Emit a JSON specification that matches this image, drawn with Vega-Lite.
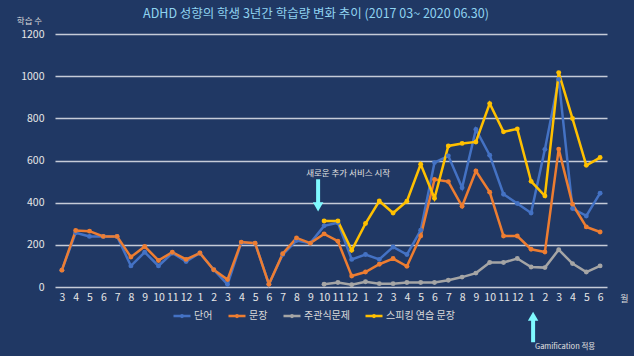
{
  "$schema": "https://vega.github.io/schema/vega-lite/v6.json",
  "width": 552,
  "height": 253,
  "autosize": "none",
  "padding": {"left": 55, "top": 34, "right": 27, "bottom": 69},
  "background": "#203864",
  "config": {"view": {"stroke": null}, "font": "Noto Sans CJK KR"},
  "title": {"text": "ADHD 성향의 학생 3년간 학습량 변화 추이 (2017 03~ 2020 06.30)", "color": "#8fd3f0", "fontSize": 12.5, "fontWeight": "normal", "anchor": "middle", "dx": -15, "offset": -4, "font": "Noto Sans CJK KR"},
  "datasets": {
    "main": [
      {"m": "2017-03", "단어": 80, "문장": 80},
      {"m": "2017-04", "단어": 257, "문장": 268},
      {"m": "2017-05", "단어": 240, "문장": 265},
      {"m": "2017-06", "단어": 240, "문장": 240},
      {"m": "2017-07", "단어": 240, "문장": 240},
      {"m": "2017-08", "단어": 100, "문장": 142},
      {"m": "2017-09", "단어": 165, "문장": 192},
      {"m": "2017-10", "단어": 100, "문장": 126},
      {"m": "2017-11", "단어": 161, "문장": 165},
      {"m": "2017-12", "단어": 121, "문장": 131},
      {"m": "2018-01", "단어": 161, "문장": 161},
      {"m": "2018-02", "단어": 82, "문장": 82},
      {"m": "2018-03", "단어": 13, "문장": 35},
      {"m": "2018-04", "단어": 210, "문장": 213},
      {"m": "2018-05", "단어": 208, "문장": 208},
      {"m": "2018-06", "단어": 13, "문장": 13},
      {"m": "2018-07", "단어": 154, "문장": 158},
      {"m": "2018-08", "단어": 220, "문장": 233},
      {"m": "2018-09", "단어": 208, "문장": 208},
      {"m": "2018-10", "단어": 290, "문장": 252, "주관식문제": 13, "스피킹 연습 문장": 313},
      {"m": "2018-11", "단어": 305, "문장": 217, "주관식문제": 21, "스피킹 연습 문장": 313},
      {"m": "2018-12", "단어": 131, "문장": 52, "주관식문제": 11, "스피킹 연습 문장": 174},
      {"m": "2019-01", "단어": 154, "문장": 71, "주관식문제": 25, "스피킹 연습 문장": 301},
      {"m": "2019-02", "단어": 131, "문장": 108, "주관식문제": 16, "스피킹 연습 문장": 408},
      {"m": "2019-03", "단어": 190, "문장": 135, "주관식문제": 16, "스피킹 연습 문장": 351},
      {"m": "2019-04", "단어": 154, "문장": 98, "주관식문제": 21, "스피킹 연습 문장": 407},
      {"m": "2019-05", "단어": 269, "문장": 242, "주관식문제": 21, "스피킹 연습 문장": 582},
      {"m": "2019-06", "단어": 590, "문장": 510, "주관식문제": 21, "스피킹 연습 문장": 421},
      {"m": "2019-07", "단어": 622, "문장": 500, "주관식문제": 32, "스피킹 연습 문장": 669},
      {"m": "2019-08", "단어": 471, "문장": 383, "주관식문제": 47, "스피킹 연습 문장": 681},
      {"m": "2019-09", "단어": 747, "문장": 550, "주관식문제": 66, "스피킹 연습 문장": 688},
      {"m": "2019-10", "단어": 625, "문장": 450, "주관식문제": 116, "스피킹 연습 문장": 870},
      {"m": "2019-11", "단어": 440, "문장": 242, "주관식문제": 116, "스피킹 연습 문장": 736},
      {"m": "2019-12", "단어": 396, "문장": 242, "주관식문제": 135, "스피킹 연습 문장": 750},
      {"m": "2020-01", "단어": 351, "문장": 179, "주관식문제": 95, "스피킹 연습 문장": 501},
      {"m": "2020-02", "단어": 653, "문장": 166, "주관식문제": 92, "스피킹 연습 문장": 432},
      {"m": "2020-03", "단어": 985, "문장": 654, "주관식문제": 177, "스피킹 연습 문장": 1017},
      {"m": "2020-04", "단어": 372, "문장": 393, "주관식문제": 111, "스피킹 연습 문장": 799},
      {"m": "2020-05", "단어": 337, "문장": 285, "주관식문제": 71, "스피킹 연습 문장": 577},
      {"m": "2020-06", "단어": 445, "문장": 261, "주관식문제": 100, "스피킹 연습 문장": 614}
    ],
    "arrow1": [{"m": "2018-10", "y1": 511, "y2": 398, "v": 380, "yt": 543, "t": "새로운 추가 서비스 시작"}],
    "arrow2": [{"m": "2020-01", "y1": -150, "y2": -262, "v": -139, "yt": -286, "t": "Gamification 적용"}]
  },
  "layer": [
    {
      "data": {"name": "main"},
      "transform": [
        {"fold": ["단어", "문장", "주관식문제", "스피킹 연습 문장"], "as": ["s", "v"]},
        {"filter": "datum.v != null"}
      ],
      "mark": {"type": "line", "strokeWidth": 2.5, "point": {"filled": true, "size": 24}},
      "encoding": {
        "x": {
          "field": "m", "type": "ordinal",
          "scale": {"type": "point", "padding": 0.5},
          "axis": {
            "title": "월", "titleX": 569, "titleY": 11, "titleBaseline": "middle", "titleAlign": "center",
            "titleFontSize": 9, "titleColor": "#d9d9d9", "titleFontWeight": "normal",
            "labelExpr": "toNumber(slice(datum.value, 5))", "labelAngle": 0, "labelColor": "#e6e6e6",
            "labelFontSize": 10.5, "labelPadding": 5, "domain": false, "ticks": false, "grid": false
          }
        },
        "y": {
          "field": "v", "type": "quantitative",
          "scale": {"domain": [0, 1200], "nice": false},
          "axis": {
            "values": [0, 200, 400, 600, 800, 1000, 1200], "format": "d",
            "title": "학습 수", "titleAngle": 0, "titleX": -26, "titleY": -14, "titleAlign": "center",
            "titleBaseline": "middle", "titleFontSize": 8.5, "titleColor": "#d9d9d9", "titleFontWeight": "normal",
            "labelColor": "#e6e6e6", "labelFontSize": 10.5, "labelPadding": 11,
            "domain": false, "ticks": false, "grid": true, "gridColor": "#c5cbd8", "gridWidth": 1.5
          }
        },
        "color": {
          "field": "s", "type": "nominal",
          "scale": {"domain": ["단어", "문장", "주관식문제", "스피킹 연습 문장"], "range": ["#4472c4", "#ed7d31", "#a5a5a5", "#ffc000"]},
          "legend": {
            "orient": "none", "legendX": 117, "legendY": 272, "direction": "horizontal", "title": null,
            "labelColor": "#d9d9d9", "labelFontSize": 10, "symbolType": "M-1,0L1,0M-0.1,0a0.1,0.1 0 1,0 0.2,0a0.1,0.1 0 1,0 -0.2,0", "symbolStrokeWidth": 2.5,
            "symbolSize": 289, "labelOffset": 2, "columnPadding": 10
          }
        }
      }
    },
    {
      "data": {"name": "arrow1"},
      "layer": [
        {
          "mark": {"type": "rule", "color": "#7ff9ff", "strokeWidth": 4},
          "encoding": {
            "x": {"field": "m", "type": "ordinal"},
            "xOffset": {"value": -6},
            "y": {"field": "y1", "type": "quantitative"},
            "y2": {"field": "y2"}
          }
        },
        {
          "mark": {"type": "point", "filled": true, "color": "#7ff9ff", "opacity": 1, "size": 110, "shape": "triangle-down"},
          "encoding": {
            "x": {"field": "m", "type": "ordinal"},
            "xOffset": {"value": -6},
            "y": {"field": "v", "type": "quantitative"}
          }
        },
        {
          "mark": {"type": "text", "color": "#e0e0e0", "fontSize": 8.5, "dx": 24, "baseline": "middle", "align": "center"},
          "encoding": {
            "x": {"field": "m", "type": "ordinal"},
            "y": {"field": "yt", "type": "quantitative"},
            "text": {"field": "t"}
          }
        }
      ]
    },
    {
      "data": {"name": "arrow2"},
      "layer": [
        {
          "mark": {"type": "rule", "color": "#7ff9ff", "strokeWidth": 4},
          "encoding": {
            "x": {"field": "m", "type": "ordinal"},
            "xOffset": {"value": 2},
            "y": {"field": "y1", "type": "quantitative"},
            "y2": {"field": "y2"}
          }
        },
        {
          "mark": {"type": "point", "filled": true, "color": "#7ff9ff", "opacity": 1, "size": 110, "shape": "triangle-up"},
          "encoding": {
            "x": {"field": "m", "type": "ordinal"},
            "xOffset": {"value": 2},
            "y": {"field": "v", "type": "quantitative"}
          }
        },
        {
          "mark": {"type": "text", "color": "#e0e0e0", "fontSize": 7.5, "dx": 34, "baseline": "middle", "align": "center"},
          "encoding": {
            "x": {"field": "m", "type": "ordinal"},
            "y": {"field": "yt", "type": "quantitative"},
            "text": {"field": "t"}
          }
        }
      ]
    }
  ]
}
